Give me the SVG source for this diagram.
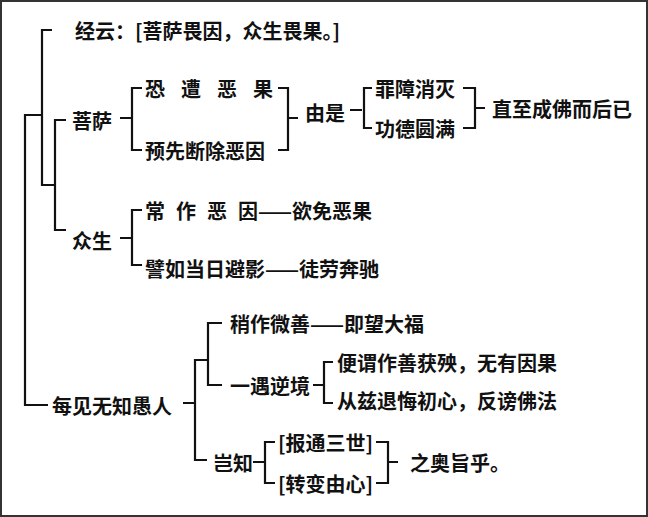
<svg xmlns="http://www.w3.org/2000/svg" width="648" height="517" viewBox="0 0 648 517">
<style>
text{font-family:"Noto Sans CJK SC","Noto Sans",sans-serif;font-weight:bold;font-size:20px;fill:#111;dominant-baseline:central}
.c path{fill:none;stroke:#111;stroke-width:2.2}
</style>
<rect x="1" y="1" width="646" height="515" fill="#fff" stroke="#333" stroke-width="2"/>
<g class="c" id="connectors">
<path d="M52 30H42V185H55M42 115H25V405H48"/>
<path d="M66 120H55V230H66"/>
<path d="M120 118H132M142 88H132V150H142"/>
<path d="M278 88H288V150H278M288 118H298"/>
<path d="M350 110H362M372 88H364V128H372"/>
<path d="M463 88H475V128H463M475 108H485"/>
<path d="M120 238H132M142 210H132V265H142"/>
<path d="M183 403H195M208 360H195V460H207"/>
<path d="M222 323H208V385H222"/>
<path d="M313 385H324M333 362H324V403H333"/>
<path d="M253 462H265M275 442H265V483H275"/>
<path d="M376 442H388V483H376M388 462H398"/>
</g>
<g id="n1"><text x="75" y="30">经云：[菩萨畏因，众生畏果。]</text></g>
<g id="n2"><text x="72" y="120">菩萨</text></g>
<g id="n3"><text x="145" y="88" letter-spacing="16">恐遭恶果</text></g>
<g id="n4"><text x="145" y="150">预先断除恶因</text></g>
<g id="n5"><text x="305" y="112">由是</text></g>
<g id="n6"><text x="375" y="88">罪障消灭</text></g>
<g id="n7"><text x="375" y="128">功德圆满</text></g>
<g id="n8"><text x="492" y="108">直至成佛而后已</text></g>
<g id="n9"><text x="72" y="240">众生</text></g>
<g id="n10"><text x="145" y="210"><tspan letter-spacing="11">常作恶</tspan>因——欲免恶果</text></g>
<g id="n11"><text x="145" y="268">譬如当日避影——徒劳奔驰</text></g>
<g id="n12"><text x="52" y="405">每见无知愚人</text></g>
<g id="n13"><text x="230" y="323">稍作微善——即望大福</text></g>
<g id="n14"><text x="230" y="385">一遇逆境</text></g>
<g id="n15"><text x="337" y="362">便谓作善获殃，无有因果</text></g>
<g id="n16"><text x="337" y="400">从兹退悔初心，反谤佛法</text></g>
<g id="n17"><text x="213" y="462">岂知</text></g>
<g id="n18"><text x="278" y="442">[报通三世]</text></g>
<g id="n19"><text x="278" y="483">[转变由心]</text></g>
<g id="n20"><text x="410" y="462">之奥旨乎。</text></g>
</svg>
